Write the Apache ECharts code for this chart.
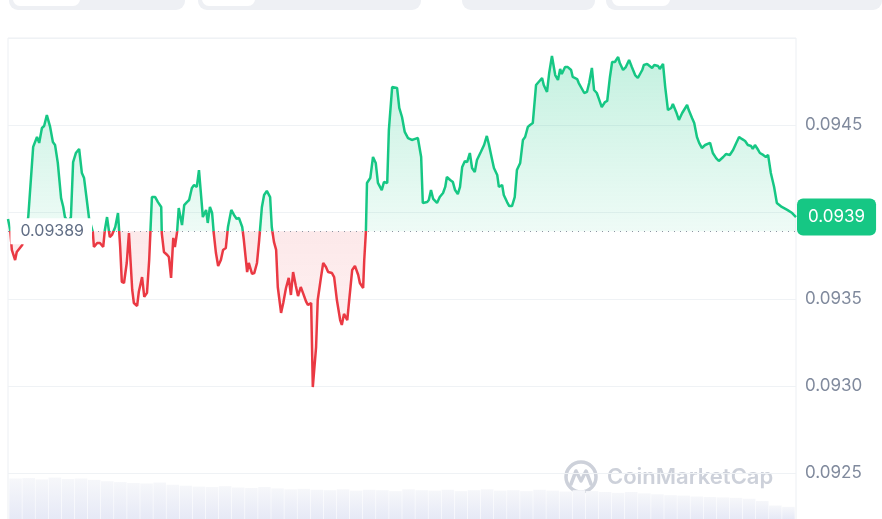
<!DOCTYPE html>
<html>
<head>
<meta charset="utf-8">
<script src="https://cdn.jsdelivr.net/npm/echarts@6/dist/echarts.min.js"></script>
<style>
  html, body { margin: 0; padding: 0; background: #fff; overflow: hidden; }
  #chart { width: 882px; height: 519px; }
</style>
</head>
<body>
<div id="chart"></div>
<script>
// 24h price, minutes since the start of the window
const minutes = [
  0, 4, 7, 13, 16, 26, 31, 37, 46, 53, 57, 62, 66, 71, 77, 82, 86, 91, 97, 101,
  104, 110, 115, 119, 124, 130, 135, 139, 144, 148, 155, 157, 163, 168, 174, 177, 181, 186, 190, 196,
  201, 205, 208, 212, 217, 221, 227, 230, 236, 239, 245, 249, 254, 258, 263, 269, 274, 280, 281, 285,
  291, 294, 298, 302, 305, 309, 312, 318, 322, 327, 331, 336, 340, 345, 349, 355, 356, 362, 365, 369,
  373, 376, 380, 384, 389, 393, 398, 402, 408, 413, 418, 422, 428, 431, 437, 440, 446, 450, 455, 459,
  464, 468, 473, 479, 482, 486, 490, 493, 499, 503, 508, 513, 517, 521, 526, 530, 535, 539, 545, 548,
  554, 557, 563, 566, 572, 576, 581, 585, 592, 596, 601, 607, 610, 614, 620, 623, 629, 634, 640, 643,
  649, 651, 654, 656, 662, 667, 672, 676, 683, 687, 693, 696, 702, 711, 715, 720, 725, 731, 738, 744,
  749, 755, 758, 766, 769, 773, 777, 784, 789, 795, 799, 802, 808, 813, 817, 822, 826, 830, 835, 839,
  844, 848, 853, 857, 864, 870, 875, 879, 884, 888, 894, 897, 903, 906, 912, 916, 921, 926, 930, 936,
  941, 945, 950, 954, 959, 965, 968, 976, 979, 985, 989, 994, 1000, 1005, 1009, 1012, 1018, 1023, 1029, 1032,
  1040, 1043, 1049, 1053, 1058, 1062, 1067, 1071, 1076, 1080, 1085, 1091, 1095, 1100, 1104, 1109, 1115, 1118, 1124, 1129,
  1135, 1140, 1146, 1151, 1159, 1162, 1168, 1171, 1177, 1181, 1188, 1191, 1197, 1201, 1206, 1212, 1215, 1221, 1226, 1232,
  1235, 1241, 1244, 1250, 1254, 1259, 1263, 1268, 1274, 1277, 1283, 1288, 1294, 1299, 1307, 1312, 1319, 1325, 1330, 1336,
  1341, 1347, 1352, 1358, 1361, 1365, 1371, 1374, 1380, 1385, 1389, 1394, 1400, 1405, 1414, 1424, 1433, 1440
];

const prices = [
  0.093960, 0.093897, 0.093782, 0.093724, 0.093770, 0.093810, 0.093885, 0.093971, 0.094374, 0.094431,
  0.094397, 0.094483, 0.094494, 0.094557, 0.094489, 0.094402, 0.094385, 0.094282, 0.094080, 0.094029,
  0.093971, 0.093943, 0.093971, 0.094287, 0.094339, 0.094362, 0.094224, 0.094195, 0.094069, 0.093966,
  0.093885, 0.093799, 0.093822, 0.093822, 0.093799, 0.093897, 0.093971, 0.093856, 0.093868, 0.093914,
  0.093994, 0.093799, 0.093598, 0.093592, 0.093707, 0.093879, 0.093552, 0.093477, 0.093460, 0.093540,
  0.093626, 0.093512, 0.093535, 0.093724, 0.094086, 0.094086, 0.094057, 0.094029, 0.093879, 0.093770,
  0.093753, 0.093741, 0.093621, 0.093851, 0.093799, 0.093885, 0.094023, 0.093925, 0.094040, 0.094057,
  0.094069, 0.094138, 0.094155, 0.094144, 0.094241, 0.094012, 0.093971, 0.094012, 0.093937, 0.094029,
  0.093994, 0.093879, 0.093764, 0.093690, 0.093724, 0.093782, 0.093793, 0.093914, 0.094012, 0.093983,
  0.093960, 0.093966, 0.093914, 0.093839, 0.093655, 0.093707, 0.093644, 0.093649, 0.093707, 0.093839,
  0.094029, 0.094098, 0.094121, 0.094086, 0.093914, 0.093828, 0.093782, 0.093569, 0.093420, 0.093477,
  0.093563, 0.093621, 0.093523, 0.093655, 0.093575, 0.093517, 0.093569, 0.093535, 0.093483, 0.093466,
  0.093477, 0.092994, 0.093224, 0.093494, 0.093626, 0.093707, 0.093684, 0.093655, 0.093649, 0.093626,
  0.093494, 0.093379, 0.093351, 0.093414, 0.093379, 0.093477, 0.093667, 0.093690, 0.093638, 0.093592,
  0.093563, 0.093724, 0.093885, 0.094167, 0.094195, 0.094316, 0.094282, 0.094167, 0.094126, 0.094172,
  0.094167, 0.094471, 0.094718, 0.094713, 0.094598, 0.094546, 0.094460, 0.094425, 0.094414, 0.094420,
  0.094425, 0.094316, 0.094052, 0.094057, 0.094069, 0.094126, 0.094075, 0.094052, 0.094086, 0.094109,
  0.094144, 0.094201, 0.094184, 0.094172, 0.094126, 0.094103, 0.094144, 0.094259, 0.094293, 0.094287,
  0.094339, 0.094253, 0.094230, 0.094299, 0.094345, 0.094385, 0.094437, 0.094385, 0.094310, 0.094253,
  0.094213, 0.094144, 0.094155, 0.094098, 0.094057, 0.094034, 0.094034, 0.094086, 0.094241, 0.094282,
  0.094414, 0.094431, 0.094489, 0.094500, 0.094511, 0.094730, 0.094741, 0.094770, 0.094730, 0.094690,
  0.094799, 0.094897, 0.094787, 0.094759, 0.094822, 0.094793, 0.094833, 0.094833, 0.094816, 0.094776,
  0.094764, 0.094741, 0.094707, 0.094684, 0.094690, 0.094741, 0.094828, 0.094701, 0.094684, 0.094649,
  0.094603, 0.094632, 0.094638, 0.094776, 0.094862, 0.094862, 0.094891, 0.094856, 0.094816, 0.094833,
  0.094874, 0.094833, 0.094787, 0.094770, 0.094816, 0.094845, 0.094851, 0.094862, 0.094828, 0.094845,
  0.094839, 0.094822, 0.094851, 0.094718, 0.094586, 0.094598, 0.094621, 0.094575, 0.094529, 0.094569,
  0.094575, 0.094615, 0.094586, 0.094540, 0.094511, 0.094431, 0.094397, 0.094368, 0.094385, 0.094374,
  0.094397, 0.094339, 0.094310, 0.094293, 0.094316, 0.094333, 0.094328, 0.094356, 0.094391, 0.094431,
  0.094420, 0.094408, 0.094385, 0.094379, 0.094362, 0.094385, 0.094356, 0.094339, 0.094328, 0.094316,
  0.094328, 0.094224, 0.094144, 0.094052, 0.094029, 0.094012, 0.093994, 0.093971
];

const openPrice = 0.09389;

// volume strip along the bottom, relative units
const volumes = [
  90, 91, 88, 92, 89, 90, 87, 84, 82, 80, 79, 81, 76, 74, 72, 71, 73, 70, 69, 71,
  68, 66, 67, 65, 64, 66, 63, 65, 64, 62, 66, 64, 63, 65, 62, 64, 66, 63, 64, 62,
  65, 63, 61, 64, 62, 60, 58, 60, 57, 55, 53, 52, 50, 49, 48, 47, 45, 40, 30, 27
];

const yMin = 0.0920;
const yMax = 0.0950;
const yStep = 0.0005;

const GREEN = '#16c784';
const RED = '#ea3943';

const tStart = minutes[0];
const tEnd = minutes[minutes.length - 1];
const lastPrice = prices[prices.length - 1];
const pricePairs = minutes.map((m, i) => [m, prices[i]]);
const upPairs = minutes.map((m, i) => [m, Math.max(prices[i], openPrice)]);
const downPairs = minutes.map((m, i) => [m, Math.min(prices[i], openPrice)]);

const chart = echarts.init(document.getElementById('chart'));

const option = {
  animation: false,
  textStyle: { fontFamily: 'Inter, "Noto Sans", sans-serif' },
  grid: [
    { left: 8, right: 86, top: 38, height: 522, show: true, borderColor: '#eceff3', borderWidth: 1, outerBoundsMode: 'none' },
    { left: 9, right: 87, top: 474, bottom: 0, outerBoundsMode: 'none' }
  ],
  xAxis: [
    { type: 'value', gridIndex: 0, min: tStart, max: tEnd, show: false },
    { type: 'category', gridIndex: 1, data: volumes.map((v, i) => i), show: false }
  ],
  yAxis: [
    {
      type: 'value', gridIndex: 0, position: 'right',
      min: yMin, max: yMax, interval: yStep,
      axisLine: { show: false }, axisTick: { show: false },
      splitLine: { lineStyle: { color: '#eff2f5', width: 1 } },
      axisLabel: {
        color: '#808a9d', fontSize: 17, margin: 9, showMaxLabel: false,
        formatter: v => v.toFixed(4)
      }
    },
    { type: 'value', gridIndex: 1, min: 0, max: 100, show: false }
  ],
  visualMap: {
    show: false, type: 'piecewise', seriesIndex: 0, dimension: 1,
    pieces: [
      { min: yMin, max: openPrice, color: RED },
      { min: openPrice, max: yMax, color: GREEN }
    ]
  },
  series: [
    {
      type: 'line', data: pricePairs, showSymbol: false, z: 4,
      lineStyle: { width: 2.5 }
    },
    {
      type: 'line', data: upPairs, showSymbol: false, silent: true, z: 2,
      lineStyle: { opacity: 0 },
      areaStyle: {
        origin: openPrice,
        color: new echarts.graphic.LinearGradient(0, 0, 0, 1, [
          { offset: 0, color: 'rgba(22,199,132,0.36)' },
          { offset: 1, color: 'rgba(22,199,132,0.10)' }
        ])
      },
      markLine: {
        silent: true, symbol: 'none', z: 10, animation: false,
        data: [
          [
            {
              coord: [tStart, openPrice],
              lineStyle: { color: '#8d94a3', width: 1.2, type: [1, 5], opacity: 1 },
              label: {
                show: true, position: 'start', distance: -84,
                formatter: String(openPrice),
                color: '#616e85', fontSize: 16,
                backgroundColor: '#fff', padding: [5, 8, 5, 10]
              }
            },
            { coord: [tEnd, openPrice] }
          ],
          [
            {
              coord: [tStart, lastPrice],
              lineStyle: { color: 'rgba(0,0,0,0)', width: 0, opacity: 1 },
              label: {
                show: true, position: 'end', distance: 1,
                formatter: (Math.floor(lastPrice * 1e4) / 1e4).toFixed(4),
                color: '#fff', fontSize: 17,
                backgroundColor: GREEN, borderRadius: 6, padding: [10, 11]
              }
            },
            { coord: [tEnd, lastPrice] }
          ]
        ]
      }
    },
    {
      type: 'line', data: downPairs, showSymbol: false, silent: true, z: 2,
      lineStyle: { opacity: 0 },
      areaStyle: {
        origin: openPrice,
        color: new echarts.graphic.LinearGradient(0, 0, 0, 1, [
          { offset: 0, color: 'rgba(234,57,67,0.16)' },
          { offset: 1, color: 'rgba(234,57,67,0.08)' }
        ])
      }
    },
    {
      type: 'bar', xAxisIndex: 1, yAxisIndex: 1, data: volumes, silent: true,
      barCategoryGap: '4%',
      itemStyle: {
        color: new echarts.graphic.LinearGradient(0, 0, 0, 1, [
          { offset: 0, color: '#f6f7fa' },
          { offset: 1, color: '#e6e9f6' }
        ])
      }
    }
  ],
  graphic: [
    // page tabs peeking in at the top
    { type: 'rect', shape: { x: 9, y: -22, width: 176, height: 32, r: 9 }, style: { fill: '#eef0f4' } },
    { type: 'rect', shape: { x: 13, y: -22, width: 67, height: 28, r: 7 }, style: { fill: '#fff' } },
    { type: 'rect', shape: { x: 198, y: -22, width: 223, height: 32, r: 9 }, style: { fill: '#eef0f4' } },
    { type: 'rect', shape: { x: 202, y: -22, width: 53, height: 28, r: 7 }, style: { fill: '#fff' } },
    { type: 'rect', shape: { x: 462, y: -22, width: 133, height: 32, r: 9 }, style: { fill: '#eef0f4' } },
    { type: 'rect', shape: { x: 606, y: -22, width: 276, height: 32, r: 9 }, style: { fill: '#eef0f4' } },
    { type: 'rect', shape: { x: 612, y: -22, width: 58, height: 28, r: 7 }, style: { fill: '#fff' } },
    // watermark
    {
      type: 'group', silent: true, z: 1,
      children: [
        { type: 'circle', shape: { cx: 581, cy: 477, r: 15 }, style: { fill: 'none', stroke: '#cdd1da', lineWidth: 3.5 } },
        { type: 'polyline', shape: { points: [[571, 484], [576, 471], [581, 481], [586, 471], [591, 484]] }, style: { fill: 'none', stroke: '#cdd1da', lineWidth: 3.5, lineJoin: 'round', lineCap: 'round' } },
        { type: 'text', x: 607, y: 466, style: { text: 'CoinMarketCap', fill: '#cdd1da', font: '600 22px Inter, "Noto Sans", sans-serif' } }
      ]
    }
  ]
};

chart.setOption(option);
</script>
</body>
</html>
